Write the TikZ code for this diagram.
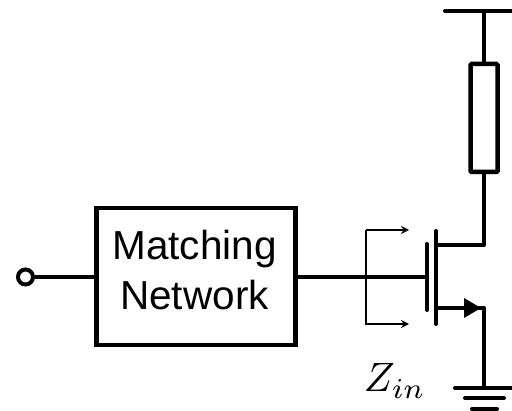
\documentclass[tikz,border=0pt]{standalone}
\usepackage{fontspec}
\setsansfont{Liberation Sans}
\usetikzlibrary{arrows.meta}
\tikzset{
  wire/.style={line width=4pt,line cap=round,line join=round},
  thinwire/.style={line width=1.6pt,line join=miter},
  blockbox/.style={draw,line width=4.7pt,minimum width=199pt,minimum height=137pt,inner sep=0pt},
  blocktext/.style={inner sep=0pt,align=center,font=\sffamily\fontsize{40.5}{49.5}\selectfont},
  resbox/.style={draw,line width=4.5pt,rounded corners=1pt,minimum width=27pt,minimum height=108pt,inner sep=0pt},
  portdot/.style={draw,circle,line width=4pt,fill=white,minimum size=15pt,inner sep=0pt},
}
\begin{document}
\begin{tikzpicture}[x=1pt,y=-1pt]
\useasboundingbox (0,0) rectangle (512,411);
% nodes
\node[blockbox] (mn) at (195.7,276.5) {};
\node[blocktext,anchor=base] (mnt) at (194.5,309.5) {Matching\\Network};
\node[resbox] (r) at (484,118) {};
\node[portdot] (port) at (25.5,277) {};
\node[scale=4.1,inner sep=0pt,anchor=base west] (zin) at (363,392) {$Z_{in}$};
% coordinates
\coordinate (railL) at (445,11);
\coordinate (railR) at (512,11);
\coordinate (railM) at (484,11);
\coordinate (dr) at (484,245);
\coordinate (dc) at (436,245);
\coordinate (chT) at (436,231);
\coordinate (chB) at (436,324);
\coordinate (gT) at (427,244);
\coordinate (gB) at (427,310);
\coordinate (gM) at (427,277);
\coordinate (sc) at (436,308);
\coordinate (sr) at (484,308);
\coordinate (gnd) at (484,388);
\coordinate (gndL) at (455,388);
\coordinate (gndR) at (512,388);
\coordinate (g2L) at (465,398);
\coordinate (g2R) at (504,398);
\coordinate (g3L) at (472,409);
\coordinate (g3R) at (497,409);
\coordinate (tapT) at (366,230);
\coordinate (tapB) at (366,324);
\coordinate (arT) at (409,230);
\coordinate (arB) at (409,324);
% power rail and resistor
\draw[wire] (railL) -- (railR);
\draw[wire] (railM) -- (r.north);
\draw[wire] (r.south) -- (dr) -- (dc);
% input
\draw[wire,line cap=butt] (port) -- (port -| mn.west);
\draw[wire,line cap=butt] (mn.east |- gM) -- (gM);
% transistor
\draw[wire] (chT) -- (chB);
\draw[wire] (gT) -- (gB);
\draw[wire] (sc) -- (sr) -- (gnd);
\fill (464,298) -- (481,308) -- (464,318) -- cycle;
% ground
\draw[wire] (gndL) -- (gndR);
\draw[wire] (g2L) -- (g2R);
\draw[wire] (g3L) -- (g3R);
% Zin arrows
\draw[thinwire,-{Stealth[length=8pt,width=8pt]}] (arT -| tapT) -- (arT);
\draw[thinwire,-{Stealth[length=8pt,width=8pt]}] (tapT) -- (tapB) -- (arB);
\end{tikzpicture}
\end{document}
